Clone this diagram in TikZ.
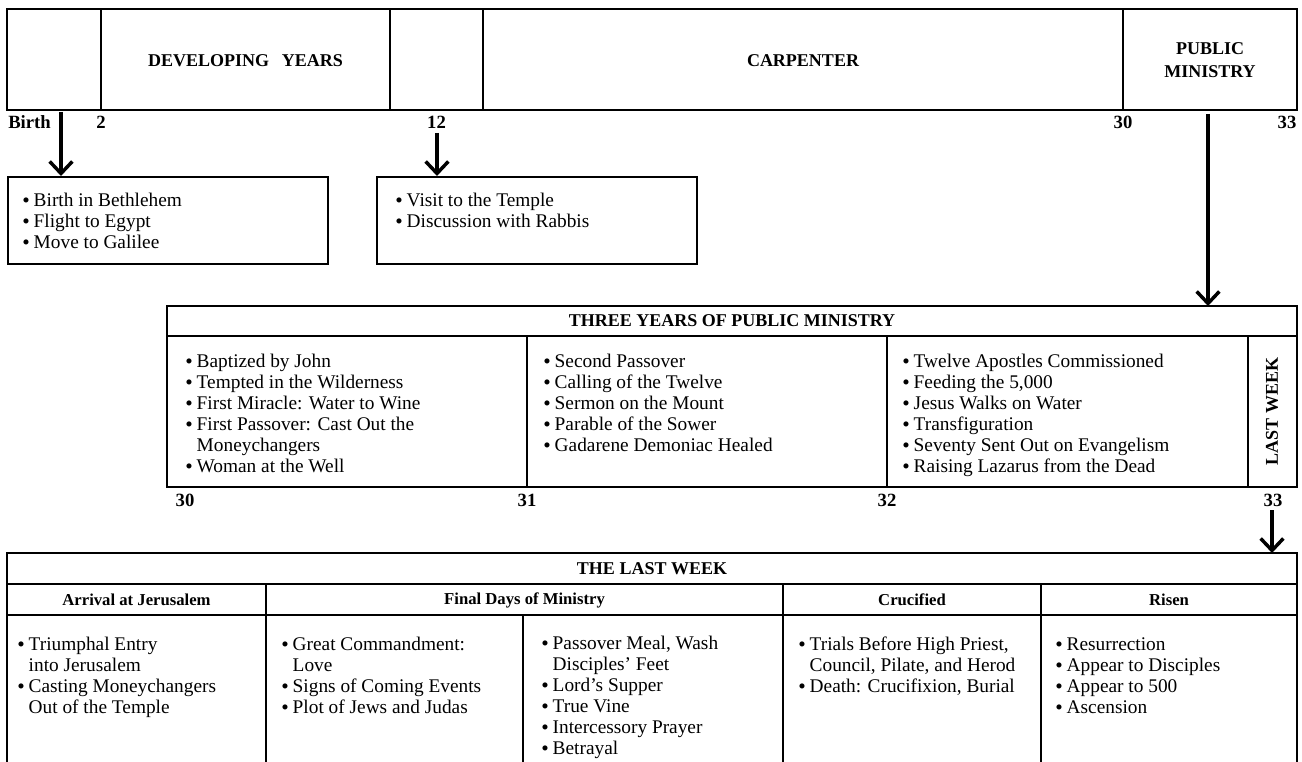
\documentclass[tikz,border=0pt]{standalone}
\usepackage{fontspec}
\setmainfont{Liberation Serif}
\usetikzlibrary{arrows.meta}

\newcommand\bul{\makebox[8.6pt][l]{\raisebox{-0.7pt}{\fontsize{16}{16}\selectfont\textbullet}}}
\newcommand\cont{\hspace*{8.6pt}}

\tikzset{
  frame/.style={line width=1.4pt},
  arr/.style={line width=2.6pt,-{Straight Barb[length=9pt,width=17pt]}},
  caps/.style={font=\bfseries\fontsize{13.5}{17}\selectfont, inner sep=0, align=center},
  sub/.style={font=\bfseries\fontsize{12.5}{15}\selectfont, inner sep=0},
  yr/.style={font=\bfseries\fontsize{14}{16}\selectfont, inner sep=0},
  txt/.style={anchor=north west, inner sep=0, align=left, font=\fontsize{14.5}{15.75}\selectfont}
}

\begin{document}
\begin{tikzpicture}[x=0.75pt,y=-0.75pt]
\useasboundingbox (0,0) rectangle (1302,762);

% top time bar
\draw[frame] (7,9) rectangle (1297,110);
\foreach \xd in {101,390,483,1123} \draw[frame] (\xd,9) -- (\xd,110);
\node[caps] (devyears) at (245.5,61) {DEVELOPING\hspace{0.7em}YEARS};
\node[caps] (carpenter) at (803,61) {CARPENTER};
\node[caps] (pubmin) at (1210,60) {PUBLIC\\MINISTRY};

% ages under the bar
\node[yr,anchor=west] (agebirth) at (8,122) {Birth};
\node[yr] (agetwo) at (101,122) {2};
\node[yr] (agetwelve) at (436.5,122) {12};
\node[yr] (agethirty) at (1123,122) {30};
\node[yr] (agethirtythree) at (1287,122) {33};

% early boxes
\node[draw, frame, anchor=north west, minimum width=240pt, minimum height=65.25pt] (earlybox) at (7,176) {};
\node[draw, frame, anchor=north west, minimum width=240pt, minimum height=65.25pt] (templebox) at (376,176) {};
\node[txt] (earlytxt) at (22,193) {\bul Birth in Bethlehem\\ \bul Flight to Egypt\\ \bul Move to Galilee};
\node[txt] (templetxt) at (395,193) {\bul Visit to the Temple\\ \bul Discussion with Rabbis};

\coordinate (birthtop) at (61,112);
\coordinate (twelvetop) at (437,133);
\coordinate (pmtop) at (1208,114);
\draw[arr] (birthtop) -- (birthtop |- earlybox.north);
\draw[arr] (twelvetop) -- (twelvetop |- templebox.north);

% three years table
\draw[frame] (167,306) rectangle (1297,487);
\draw[frame] (167,336) -- (1297,336);
\foreach \xd in {527,887,1248} \draw[frame] (\xd,336) -- (\xd,487);
\coordinate (pmend) at (1208,306);
\draw[arr] (pmtop) -- (pmend);
\node[caps] (threeyears) at (732,321) {THREE YEARS OF PUBLIC MINISTRY};
\node[caps, rotate=90] (lastwk) at (1272,411.5) {LAST WEEK};

\node[txt] (yearone) at (185,354) {\bul Baptized by John\\ \bul Tempted in the Wilderness\\ \bul First Miracle: Water to Wine\\ \bul First Passover: Cast Out the\\ \cont Moneychangers\\ \bul Woman at the Well};
\node[txt] (yeartwo) at (543,354) {\bul Second Passover\\ \bul Calling of the Twelve\\ \bul Sermon on the Mount\\ \bul Parable of the Sower\\ \bul Gadarene Demoniac Healed};
\node[txt] (yearthree) at (902,354) {\bul Twelve Apostles Commissioned\\ \bul Feeding the 5,000\\ \bul Jesus Walks on Water\\ \bul Transfiguration\\ \bul Seventy Sent Out on Evangelism\\ \bul Raising Lazarus from the Dead};

\node[yr] (yrthirty) at (185,500) {30};
\node[yr] (yrthirtyone) at (527,500) {31};
\node[yr] (yrthirtytwo) at (887,500) {32};
\node[yr] (yrthirtythree) at (1273,500) {33};

% last week table, open at the bottom
\coordinate (lwtop) at (1272,510);
\coordinate (lwend) at (1272,553);
\draw[arr] (lwtop) -- (lwend);
\draw[frame] (7,775) -- (7,553) -- (1297,553) -- (1297,775);
\draw[frame] (7,584) -- (1297,584);
\draw[frame] (7,615) -- (1297,615);
\foreach \xd in {266,783,1041} \draw[frame] (\xd,584) -- (\xd,775);
\draw[frame] (523,615) -- (523,775);
\node[caps] (lastweek) at (652,568.5) {THE LAST WEEK};
\node[sub] (arrival) at (136.5,600) {Arrival at Jerusalem};
\node[sub] (finaldays) at (524.5,600) {Final Days of Ministry};
\node[sub] (crucified) at (912,600) {Crucified};
\node[sub] (risen) at (1169,600) {Risen};

\node[txt] (arrivaltxt) at (17,637) {\bul Triumphal Entry\\ \cont into Jerusalem\\ \bul Casting Moneychangers\\ \cont Out of the Temple};
\node[txt] (finaltxt) at (281,637) {\bul Great Commandment:\\ \cont Love\\ \bul Signs of Coming Events\\ \bul Plot of Jews and Judas};
\node[txt] (suppertxt) at (541,636) {\bul Passover Meal, Wash\\ \cont Disciples' Feet\\ \bul Lord's Supper\\ \bul True Vine\\ \bul Intercessory Prayer\\ \bul Betrayal};
\node[txt] (crucitxt) at (798,637) {\bul Trials Before High Priest,\\ \cont Council, Pilate, and Herod\\ \bul Death: Crucifixion, Burial};
\node[txt] (risentxt) at (1055,637) {\bul Resurrection\\ \bul Appear to Disciples\\ \bul Appear to 500\\ \bul Ascension};
\end{tikzpicture}
\end{document}
